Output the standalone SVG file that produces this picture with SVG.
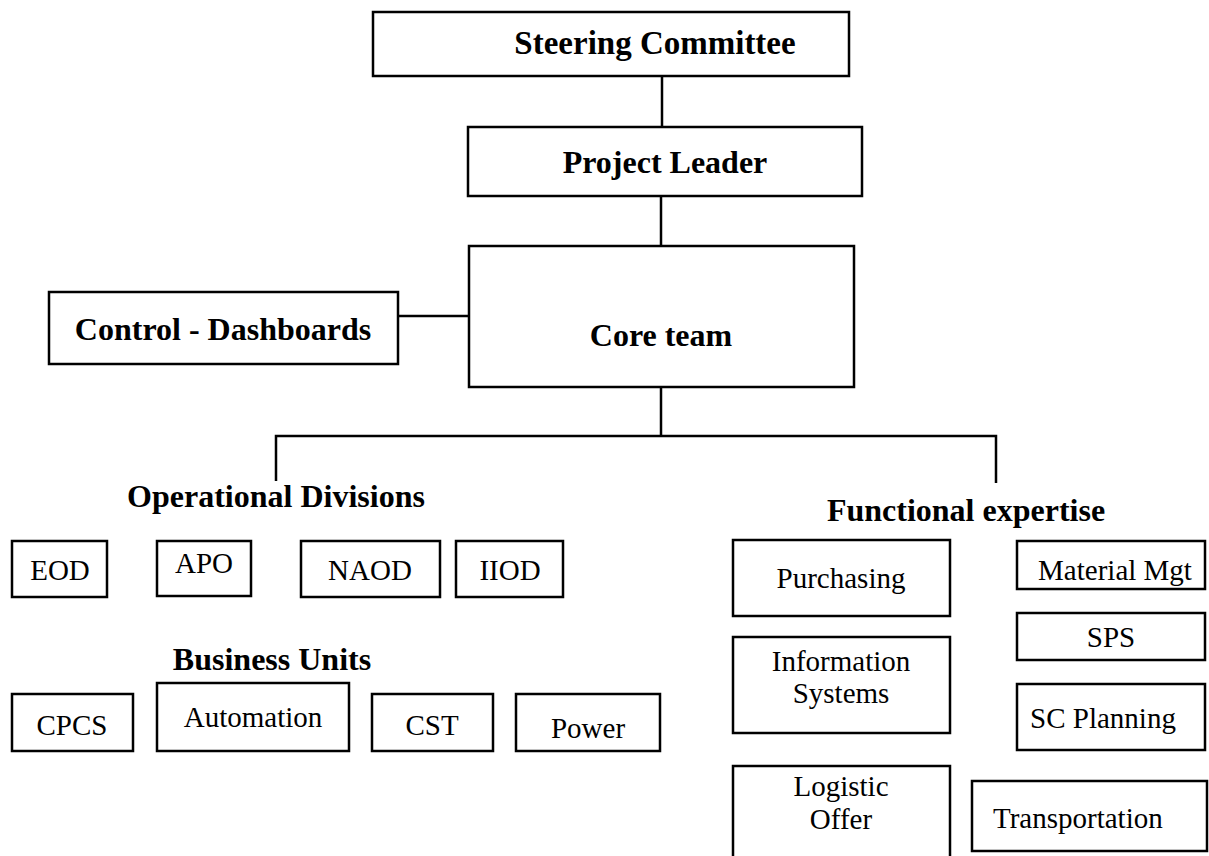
<svg xmlns="http://www.w3.org/2000/svg" width="1209" height="856" viewBox="0 0 1209 856">
<style>
.box{fill:#fff;stroke:#000;stroke-width:2.5}
.ln{stroke:#000;stroke-width:2.5;fill:none}
.b{font-family:"Liberation Serif","Times New Roman",serif;font-weight:bold;font-size:32px;fill:#000;text-anchor:middle}
.r{font-family:"Liberation Serif","Times New Roman",serif;font-size:29px;fill:#000;text-anchor:middle}
.rs{font-family:"Liberation Serif","Times New Roman",serif;font-size:29px;fill:#000;text-anchor:start}
</style>
<defs>
<clipPath id="cm"><rect x="1017" y="541" width="188" height="45"/></clipPath>
</defs>
<rect width="1209" height="856" fill="#fff"/>
<g id="connectors">
<line class="ln" x1="662" y1="76" x2="662" y2="127"/>
<line class="ln" x1="661" y1="196" x2="661" y2="246"/>
<line class="ln" x1="398" y1="316" x2="469" y2="316"/>
<line class="ln" x1="661" y1="387" x2="661" y2="436"/>
<polyline class="ln" points="276,481 276,436 996,436 996,483"/>
</g>
<g id="steering"><rect class="box" x="373" y="12" width="476" height="64"/><text class="b" x="655" y="54" style="font-size:33px">Steering Committee</text></g>
<g id="project-leader"><rect class="box" x="468" y="127" width="394" height="69"/><text class="b" x="665" y="173">Project Leader</text></g>
<g id="core-team"><rect class="box" x="469" y="246" width="385" height="141"/><text class="b" x="661" y="346">Core team</text></g>
<g id="control"><rect class="box" x="49" y="292" width="349" height="72"/><text class="b" x="223" y="340">Control - Dashboards</text></g>
<g id="op-div-title"><text class="b" x="276" y="507">Operational Divisions</text></g>
<g id="eod"><rect class="box" x="12" y="541" width="95" height="56"/><text class="r" x="60" y="580">EOD</text></g>
<g id="apo"><rect class="box" x="157" y="541" width="94" height="55"/><text class="r" x="204" y="573">APO</text></g>
<g id="naod"><rect class="box" x="301" y="541" width="139" height="56"/><text class="r" x="370" y="580">NAOD</text></g>
<g id="iiod"><rect class="box" x="456" y="541" width="107" height="56"/><text class="r" x="510" y="580">IIOD</text></g>
<g id="bu-title"><text class="b" x="272" y="670">Business Units</text></g>
<g id="cpcs"><rect class="box" x="12" y="694" width="121" height="57"/><text class="r" x="72" y="735">CPCS</text></g>
<g id="automation"><rect class="box" x="157" y="683" width="192" height="68"/><text class="r" x="253" y="727">Automation</text></g>
<g id="cst"><rect class="box" x="372" y="694" width="121" height="57"/><text class="r" x="432" y="735">CST</text></g>
<g id="power"><rect class="box" x="516" y="694" width="144" height="57"/><text class="r" x="588" y="738">Power</text></g>
<g id="fe-title"><text class="b" x="966" y="521">Functional expertise</text></g>
<g id="purchasing"><rect class="box" x="733" y="540" width="217" height="76"/><text class="r" x="841" y="588">Purchasing</text></g>
<g id="material"><rect class="box" x="1017" y="541" width="188" height="48"/><text class="r" x="1115" y="580" clip-path="url(#cm)">Material Mgt</text></g>
<g id="sps"><rect class="box" x="1017" y="613" width="188" height="47"/><text class="r" x="1111" y="647">SPS</text></g>
<g id="info"><rect class="box" x="733" y="637" width="217" height="96"/><text class="r" x="841" y="671">Information</text><text class="r" x="841" y="703">Systems</text></g>
<g id="sc-planning"><rect class="box" x="1017" y="684" width="188" height="66"/><text class="r" x="1103" y="728">SC Planning</text></g>
<g id="logistic"><rect class="box" x="733" y="766" width="217" height="96"/><text class="r" x="841" y="796">Logistic</text><text class="r" x="841" y="829">Offer</text></g>
<g id="transport"><rect class="box" x="972" y="781" width="235" height="70"/><text class="rs" x="993" y="828">Transportation</text></g>
</svg>
